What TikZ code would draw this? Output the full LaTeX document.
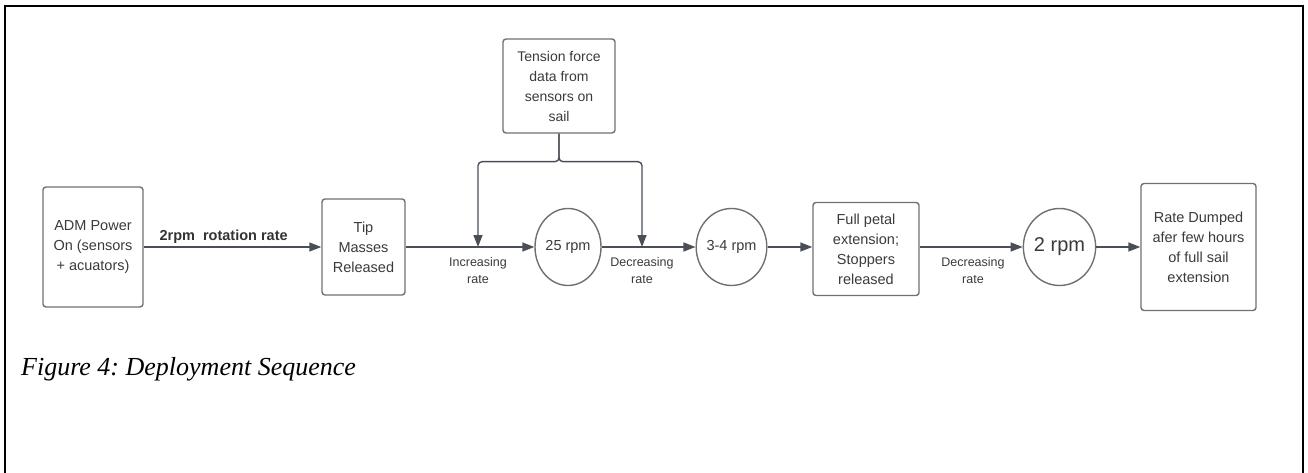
\documentclass[tikz,border=0pt]{standalone}
\usepackage{fontspec}
\setmainfont{Liberation Sans}
\newfontfamily\captionfont{Liberation Serif}
\usepackage{tikz}
\usetikzlibrary{positioning,arrows.meta,shapes.geometric}
\definecolor{linegray}{HTML}{4A4E57}
\definecolor{boxgray}{HTML}{707070}
\definecolor{textgray}{HTML}{3A3A3A}
\frenchspacing

\begin{document}
\begin{tikzpicture}[
  x=1pt, y=-1pt,
  every node/.style={font=\fontsize{14.5}{20}\selectfont, text=textgray, align=center, inner sep=0pt},
  stepbox/.style={draw=boxgray, line width=1.4pt, rounded corners=3pt},
  ratecirc/.style={draw=boxgray, line width=1.4pt, ellipse},
  ratelbl/.style={font=\fontsize{12.5}{17.5}\selectfont},
  flow/.style={draw=linegray, line width=1.4pt, -{Triangle[length=12pt,width=9pt]}}
]
  \useasboundingbox (0,0) rectangle (1308,473);
  \draw[line width=2.8pt] (5,473) |- (1303,6) -- (1303,473);

  % steps and rates along the sequence
  \node[stepbox, minimum width=100pt, minimum height=120pt] (adm) at (93,247) {ADM Power\\On (sensors\\+ acuators)};
  \node[stepbox, minimum width=83pt, minimum height=96pt] (tip) at (363.5,247) {Tip\\Masses\\Released};
  \node[stepbox, minimum width=112pt, minimum height=94pt, font=\fontsize{14}{20}\selectfont] (tension) at (559,86) {Tension force\\data from\\sensors on\\sail};
  \node[ratecirc, minimum width=66pt, minimum height=77pt] (c25) at (568,247) {25 rpm};
  \node[ratecirc, minimum width=67pt, minimum height=77pt] (c34) at (731.5,247) {3-4 rpm};
  \node[stepbox, minimum width=106pt, minimum height=93pt] (petal) at (866,249) {Full petal\\extension;\\Stoppers\\released};
  \node[ratecirc, minimum width=65pt, minimum height=77pt, font=\fontsize{20}{24}\selectfont] (c2) at (1059.5,247) {2 rpm};
  \node[stepbox, minimum width=115pt, minimum height=127pt] (dump) at (1198.5,247) {Rate Dumped\\afer few hours\\of full sail\\extension};

  \coordinate (incr) at (478,247);
  \coordinate (decr) at (642,247);
  \coordinate (decr2) at (973,247);

  % connectors
  \draw[flow] (adm) -- node[above=3pt, pos=0.45, font=\fontsize{14.5}{20}\selectfont\bfseries, text=black!80] (rotlbl) {2rpm\ \ rotation rate} (tip);
  \draw[flow] (tip) -- (c25);
  \draw[flow] (c25) -- (c34);
  \draw[flow] (c34.east) -- (c34.east -| petal.west);
  \draw[flow] (c2.west -| petal.east) -- (c2.west);
  \draw[flow] (c2) -- (dump);
  \draw[flow, rounded corners=4pt] (tension.south) -- ++(0,28) -| (incr);
  \draw[flow, rounded corners=4pt] (tension.south) -- ++(0,28) -| (decr);

  \node[ratelbl, below=10pt of incr] (incrlbl) {Increasing\\rate};
  \node[ratelbl, below=10pt of decr] (decrlbl) {Decreasing\\rate};
  \node[ratelbl, below=10pt of decr2] (decrlbl2) {Decreasing\\rate};

  \node[anchor=base west, font=\captionfont\itshape\fontsize{26}{30}\selectfont, text=black] (caption) at (21,375) {Figure 4: Deployment Sequence};
\end{tikzpicture}
\end{document}
